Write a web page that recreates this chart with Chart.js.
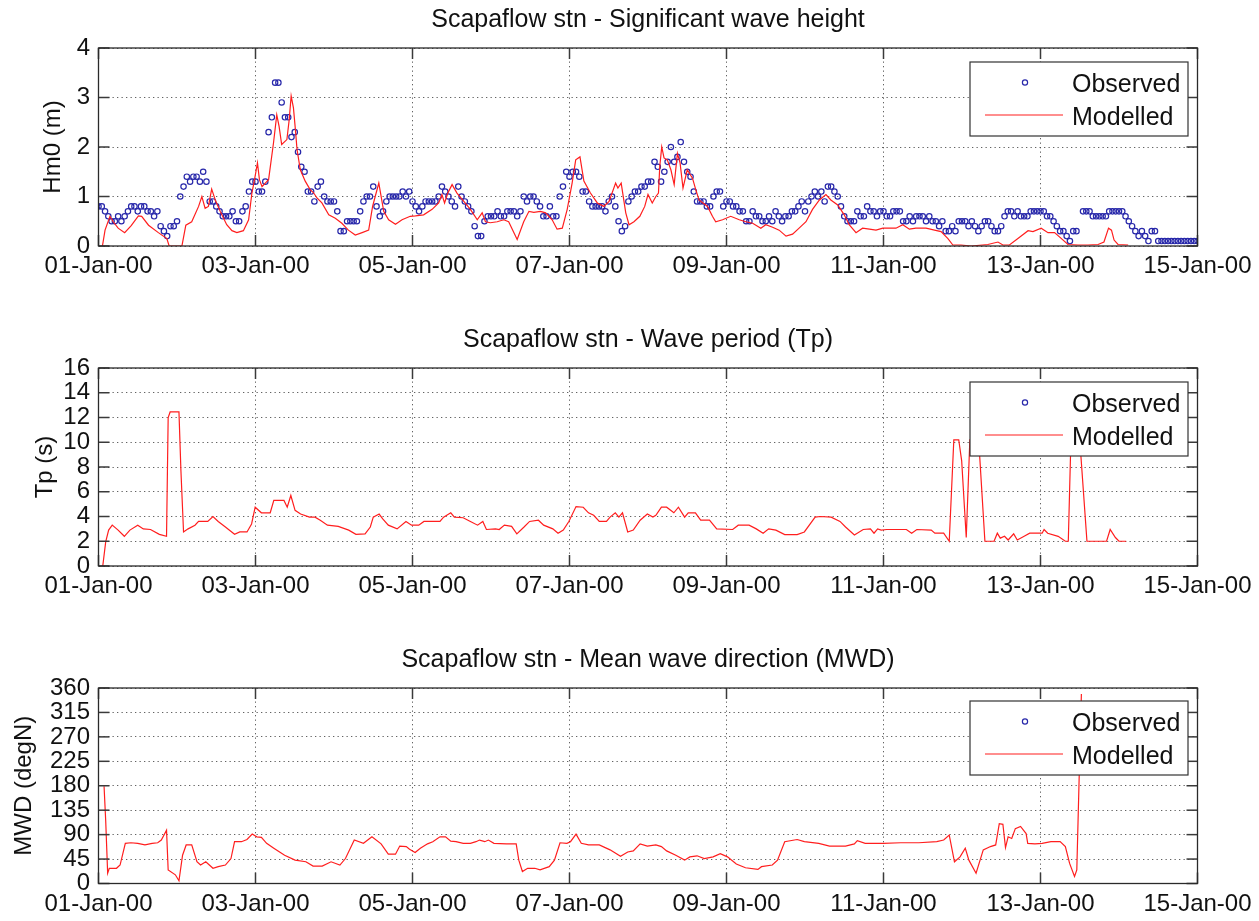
<!DOCTYPE html>
<html><head><meta charset="utf-8">
<script src="https://cdn.jsdelivr.net/npm/chart.js@4.4.1/dist/chart.umd.min.js"></script>
<style>
html,body{margin:0;padding:0;background:#fff;width:1259px;height:921px;overflow:hidden;position:relative}
canvas{position:absolute;left:0}
</style></head><body>
<canvas id="c1" width="1259" height="300" style="top:0px"></canvas>
<canvas id="c2" width="1259" height="300" style="top:320px"></canvas>
<canvas id="c3" width="1259" height="281" style="top:640px"></canvas>
<script>
// ---------- tick labels ----------
const dateLabels = ['01-Jan-00','03-Jan-00','05-Jan-00','07-Jan-00','09-Jan-00','11-Jan-00','13-Jan-00','15-Jan-00'];
const titles = ['Scapaflow stn - Significant wave height','Scapaflow stn - Wave period (Tp)','Scapaflow stn - Mean wave direction (MWD)'];
const yLabels = ['Hm0 (m)','Tp (s)','MWD (degN)'];
const seriesNames = ['Observed','Modelled'];

// ---------- observed Hm0, hourly from 01-Jan-00 00:00 (hour 0 .. 336) ----------
const obsHm0 = [
0.8,0.8,0.7,0.6,0.5,0.5,0.6,0.5,0.6,0.7, 0.8,0.8,0.7,0.8,0.8,0.7,0.7,0.6,0.7,0.4,
0.3,0.2,0.4,0.4,0.5,1.0,1.2,1.4,1.3,1.4, 1.4,1.3,1.5,1.3,0.9,0.9,0.8,0.7,0.6,0.6,
0.6,0.7,0.5,0.5,0.7,0.8,1.1,1.3,1.3,1.1, 1.1,1.3,2.3,2.6,3.3,3.3,2.9,2.6,2.6,2.2,
2.3,1.9,1.6,1.5,1.1,1.1,0.9,1.2,1.3,1.0, 0.9,0.9,0.9,0.7,0.3,0.3,0.5,0.5,0.5,0.5,
0.7,0.9,1.0,1.0,1.2,
0.8,0.6,0.7,0.9,1.0,1.0,1.0,1.0,1.1,1.0, 1.1,0.9,0.8,0.7,0.8,0.9,0.9,0.9,0.9,1.0,
1.2,1.1,1.0,0.9,0.8,1.2,1.0,0.9,0.8,0.7, 0.4,0.2,0.2,0.5,0.6,0.6,0.6,0.7,0.6,0.6,
0.7,0.7,0.7,0.6,0.7,1.0,0.9,1.0,1.0,0.9, 0.8,0.6,0.6,0.8,0.6,0.6,1.0,1.2,1.5,1.4,
1.5,1.5,1.4,1.1,1.1,0.9,0.8,0.8,0.8,0.8, 0.7,0.9,1.0,0.8,0.5,0.3,0.4,0.9,1.0,1.1,
1.1,1.2,1.2,1.3,
1.3,1.7,1.6,1.3,1.5,1.7,2.0,1.7,1.8,2.1, 1.7,1.5,1.4,1.1,0.9,0.9,0.9,0.8,0.8,1.0,
1.1,1.1,0.8,0.9,0.9,0.8,0.8,0.7,0.7,0.5, 0.5,0.7,0.6,0.6,0.5,0.5,0.6,0.5,0.7,0.6,
0.5,0.6,0.6,0.7,0.7,0.8,0.9,0.7,0.9,1.0, 1.1,1.0,1.1,0.9,1.2,1.2,1.1,1.0,0.8,0.6,
0.5,0.5,0.5,0.7,0.6,0.6,0.8,0.7,0.7,0.6, 0.7,0.7,0.6,0.6,0.7,0.7,0.7,0.5,0.5,0.6,
0.5,0.6,0.6,0.6,0.5,
0.6,0.5,0.5,0.4,0.5,0.3,0.3,0.4,0.3,0.5, 0.5,0.5,0.4,0.5,0.4,0.3,0.4,0.5,0.5,0.4,
0.3,0.3,0.4,0.6,0.7,0.7,0.6,0.7,0.6,0.6, 0.6,0.7,0.7,0.7,0.7,0.7,0.6,0.6,0.5,0.4,
0.3,0.3,0.2,0.1,0.3,0.3,null,0.7,0.7,0.7, 0.6,0.6,0.6,0.6,0.6,0.7,0.7,0.7,0.7,0.7,
0.6,0.5,0.4,0.3,0.2,0.3,0.2,0.1,0.3,0.3, 0.1,0.1,0.1,0.1,0.1,0.1,0.1,0.1,0.1,0.1,
0.1,0.1,0.1
];

// ---------- modelled Hm0 (hours since start, metres) ----------
const modHm0Hours = [1.2,2,3.5,4.5,6,8,10,12.2,13.2,15.3,18.3,20.9,21.6,25.5,26.7,28.5,30.6,31.6,32.6,33.6,34.6,35.7,37.2,39.2,40.8,42.3,44.3,45.9,46.9,47.7,48.6,49.2,50,51,52,53.5,54.5,55.2,56,57.6,58.3,58.9,59.6,60.2,60.7,61.7,63.2,64.7,65.7,66.8,68.3,70.4,72.4,74.4,76.4,78.5,80.6,82.6,83.8,84.6,
85.7,87.2,88.7,90.8,92.8,95.3,96.9,99.4,102,104,105,105.8,106.8,108.1,109.6,111.7,113.7,115.8,117.3,118.3,119.8,121.9,123.9,125.4,128,130,131.6,133.1,135.1,136.7,138.7,140.2,141.8,143.3,144.8,145.9,147.2,148.4,150.4,152.5,154.5,156.1,158.1,158.8,159.8,161.2,162.2,163.7,165.5,167,168,
169.3,170.4,171.2,171.6,172.2,172.9,173.9,175,176,177,177.8,178.7,180,181.6,182.6,183.6,186.2,187.7,188.7,190.8,193.3,195.9,197.9,200,202.5,204,206.1,208.1,210.2,212.2,214.2,216.3,218.3,220.4,222.4,223.9,226,228,229.5,231.6,233.6,235.7,237.7,239.8,241.8,243.8,245.9,247.9,249.9,253,
255.6,257.6,259.7,261.2,263.7,266.8,271.9,275,276.5,278.5,281.1,284.2,285.7,288.2,290.3,292.3,294.4,296.4,299.5,302.5,305.6,307.4,308.8,309.7,310.5,311.7,314.8];
const modHm0 = [0,0.32,0.6,0.49,0.36,0.27,0.41,0.61,0.6,0.42,0.27,0.15,0,0,0.42,0.49,0.8,1.0,0.76,0.8,1.15,0.93,0.7,0.43,0.31,0.27,0.31,0.53,1.07,1.34,1.68,1.34,1.2,1.27,1.34,2.08,2.65,2.42,2.05,2.15,2.55,3.03,2.79,2.35,1.95,1.54,1.31,1.14,1.08,0.97,0.87,0.63,0.56,0.46,0.32,0.22,0.27,0.32,0.8,1.0,
1.27,0.7,0.53,0.44,0.53,0.6,0.61,0.63,0.74,0.87,1.04,0.87,1.07,1.24,1.07,0.9,0.74,0.53,0.67,0.49,0.47,0.49,0.53,0.49,0.13,0.49,0.7,0.68,0.7,0.67,0.53,0.34,0.36,0.74,1.27,1.74,1.8,1.31,1.07,0.87,0.8,0.9,1.27,1.17,1.27,0.67,0.43,0.49,0.6,0.8,1.04,
0.87,1.0,1.07,1.61,2.0,1.78,1.74,1.54,1.24,1.87,1.68,1.17,1.54,1.37,1.14,0.93,0.8,0.6,0.49,0.53,0.6,0.53,0.49,0.46,0.36,0.43,0.38,0.32,0.2,0.24,0.36,0.49,0.74,0.93,1.04,0.93,0.83,0.63,0.43,0.27,0.36,0.34,0.32,0.36,0.36,0.36,0.43,0.34,0.36,0.36,
0.32,0.29,0.15,0.02,0.02,0,0.03,0.08,0.02,0.02,0.15,0.31,0.29,0.36,0.27,0.27,0.15,0.03,0.02,0.02,0.03,0.08,0.36,0.32,0.12,0.03,0.02];

// ---------- modelled Tp (hours, seconds) ----------
const modTpHours = [1.3,2.2,3.1,4.2,6.0,7.9,9.6,12.0,13.7,15.9,18.6,20.8,21.3,21.9,24.6,25.2,26.0,27.4,29.5,30.6,33.4,35.0,36.6,38.8,41.6,43.2,45.4,46.8,47.9,49.8,52.5,53.6,56.7,57.7,58.8,60.1,61.8,64.5,66.2,67.8,70.0,73.3,76.5,78.7,81.5,83.1,84.0,85.8,86.9,88.6,91.3,94.0,95.7,97.9,99.5,102.8,104.4,105.5,107.7,108.8,111.5,113.7,115.9,117.5,118.6,121.4,122.5,124.1,126.3,127.9,130.1,131.8,134.5,136.1,138.9,140.5,142.1,143.8,146.0,148.2,149.8,151.4,153.1,155.3,156.4,158.0,159.1,160.2,161.8,163.5,165.6,167.8,169.5,
170.4,172.1,173.7,175.9,177.3,179.2,180.3,182.5,184.1,186.8,189.0,193.9,195.6,198.9,201.1,203.2,204.9,207.1,209.8,213.6,215.8,219.1,220.7,224.0,226.7,228.4,231.1,233.8,236.0,237.1,238.2,239.3,241.0,247.0,248.6,250.2,254.6,255.7,258.4,260.1,261.5,263.0,263.9,264.8,265.3,266.4,268.8,269.4,271.0,273.8,274.8,275.7,277.0,278.1,279.8,280.9,283.0,284.7,288.5,289.1,290.2,293.4,295.6,296.5,297.3,300.0,302.2,308.2,309.3,310.9,312.0,314.2];
const modTp = [0,1.95,2.9,3.3,2.9,2.4,2.9,3.3,3.0,2.95,2.56,2.4,12.0,12.45,12.45,7.7,2.75,3.0,3.3,3.6,3.6,4.0,3.6,3.15,2.56,2.75,2.75,3.4,4.75,4.3,4.3,5.3,5.3,4.75,5.7,4.5,4.2,3.95,3.95,3.7,3.3,3.2,2.9,2.56,2.6,3.15,3.95,4.2,3.8,3.3,3.0,3.6,3.3,3.3,3.6,3.6,3.6,3.95,4.3,3.95,3.9,3.6,3.3,3.6,2.95,3.0,2.95,3.3,3.2,2.6,3.15,3.6,3.7,3.3,3.0,2.65,2.9,3.6,4.8,4.75,4.3,4.1,3.6,3.6,3.95,4.3,3.95,4.3,2.75,2.9,3.7,4.2,3.95,
4.1,4.75,4.75,4.3,4.75,3.95,4.3,4.3,3.7,3.7,3.0,2.95,3.3,3.3,3.0,2.65,3.0,2.9,2.54,2.54,2.75,3.95,4.0,3.95,3.6,3.15,2.5,2.95,3.0,2.65,3.0,2.9,2.95,2.95,2.65,2.95,2.9,2.65,2.65,2.0,10.2,10.2,8.5,4.5,2.3,10.2,10.2,8.9,2.0,2.0,2.65,2.25,2.4,2.1,2.6,2.1,2.4,2.65,2.65,2.95,2.65,2.4,2.0,2.0,10.2,10.2,2.0,2.0,2.95,2.3,2.0,2.0];

// ---------- modelled MWD (hours, degN) ----------
const modMwdHours = [1.7,2.2,2.8,3.3,5.5,6.6,8.2,9.9,12.0,14.2,16.4,18.1,19.2,20.8,21.3,23.5,24.6,25.7,26.8,28.5,30.1,31.2,32.8,35.0,36.6,38.8,40.5,41.6,43.7,45.4,47.0,48.4,49.8,51.4,53.6,56.9,60.1,63.4,65.6,68.4,71.1,73.8,75.5,78.2,81.0,83.6,86.4,88.6,90.8,92.1,94.1,95.1,96.8,98.4,100.6,102.2,104.4,106.1,107.7,109.3,111.5,113.7,115.4,116.5,118.1,119.2,120.9,124.7,127.7,128.5,129.6,131.2,133.4,135.0,137.8,139.4,141.1,143.2,144.3,146.0,147.6,149.8,153.1,156.4,159.6,161.8,163.5,165.6,167.8,
170.4,172.1,173.7,176.5,179.2,180.8,183.0,185.2,187.9,190.1,192.3,195.0,197.8,201.6,202.7,206.0,207.6,209.8,213.6,215.8,220.2,223.5,228.4,231.1,232.0,234.4,239.9,245.3,250.8,256.3,258.4,260.1,261.7,263.4,265.0,266.1,268.3,270.5,272.7,274.3,275.4,276.5,277.3,278.1,279.2,280.3,281.9,283.6,284.1,286.3,288.5,291.2,294.0,295.6,296.9,298.4,299.1,299.8,300.5];
const modMwd = [179,116,19,28,28,34,74,75,74,71,74,75,80,98,25,16,5,52,71,71,40,34,40,28,31,34,46,77,77,81,91,86,85,74,65,52,43,40,32,32,40,34,46,80,74,86,73,54,54,69,68,63,57,65,73,77,86,86,78,77,74,74,77,80,77,80,74,73,73,43,22,28,28,25,31,43,75,74,77,91,74,71,71,62,50,58,60,73,69,
71,68,60,52,43,49,51,46,49,55,49,36,29,26,31,34,43,77,81,77,74,69,69,73,79,74,74,75,75,77,80,89,40,49,65,43,19,62,68,71,110,109,66,86,83,101,105,92,74,73,74,77,77,68,37,13,25,190,349];

// ---------- styling ----------
const FONT = '"Liberation Sans", Arial, Helvetica, sans-serif';
const RED = 'rgb(255,30,30)';
const BLUE = 'rgb(40,40,170)';

const framePlugin = {
  id: 'frame',
  afterDatasetsDraw(chart, args, o) {
    const {ctx, chartArea: a} = chart;
    const xs = chart.scales.x, ys = chart.scales.y;
    ctx.save();
    ctx.strokeStyle = '#3a3a3a'; ctx.lineWidth = 1.5;
    const L = 11;
    const seg = (x1,y1,x2,y2)=>{ctx.beginPath();ctx.moveTo(x1,y1);ctx.lineTo(x2,y2);ctx.stroke();};
    ys.ticks.forEach(t=>{const p=ys.getPixelForValue(t.value); seg(a.left,p,a.left+L,p); seg(a.right-L,p,a.right,p);});
    xs.ticks.forEach(t=>{const p=xs.getPixelForValue(t.value); seg(p,a.bottom,p,a.bottom-L); seg(p,a.top,p,a.top+L);});
    ctx.strokeStyle = '#2a2a2a'; ctx.lineWidth = 1.3;
    ctx.strokeRect(a.left, a.top, a.right-a.left, a.bottom-a.top);
    // legend box
    const lt = o.top, ll = 970, lr = 1188, lb = o.top + 74;
    ctx.fillStyle = '#fff';
    ctx.fillRect(ll, lt, lr-ll, lb-lt);
    ctx.strokeStyle = '#333'; ctx.lineWidth = 1.2;
    ctx.strokeRect(ll, lt, lr-ll, lb-lt);
    ctx.strokeStyle = BLUE; ctx.lineWidth = 1.2;
    ctx.beginPath(); ctx.arc(1025, lt+20.5, 2.6, 0, Math.PI*2); ctx.stroke();
    ctx.strokeStyle = RED; ctx.lineWidth = 1.2;
    seg(985, lt+53, 1063, lt+53);
    ctx.fillStyle = '#111'; ctx.font = '25px ' + FONT; ctx.textAlign='left'; ctx.textBaseline='alphabetic';
    ctx.fillText(seriesNames[0], 1072, lt+29.5);
    ctx.fillText(seriesNames[1], 1072, lt+62.5);
    ctx.restore();
  }
};

function makeChart(id, cfg) {
  const canvas = document.getElementById(id);
  const datasets = [
    {label: seriesNames[1], data: cfg.modX.map((x,i)=>({x:x, y:cfg.modY[i]})), showLine: true,
     borderColor: RED, borderWidth: 1.2, pointRadius: 0, tension: 0, fill: false},
    {label: seriesNames[0], data: cfg.obs ? cfg.obs.map((v,i)=>({x:i, y:v})) : [], showLine: false,
     pointRadius: 2.7, pointBorderWidth: 1.2, pointBorderColor: BLUE, pointBackgroundColor: 'rgba(0,0,0,0)', borderColor: BLUE}
  ];
  return new Chart(canvas, {
    type: 'scatter',
    data: {datasets},
    options: {
      responsive: false, animation: false, devicePixelRatio: 1,
      layout: {padding: {left: 0, right: 61.5, top: 0, bottom: 0}},
      plugins: {
        legend: {display: false}, tooltip: {enabled: false},
        title: {display: true, text: cfg.title, fullSize: false, color: '#111',
                font: {family: FONT, size: 25, weight: 'normal', lineHeight: 1.2},
                padding: {top: 5, bottom: 13}},
        frame: {top: cfg.legendTop}
      },
      scales: {
        x: {type: 'linear', min: 0, max: 336,
            afterFit: s => { s.height = cfg.xh; },
            afterBuildTicks: s => { s.ticks = dateLabels.map((l,i)=>({value: i*48})); },
            grid: {color: 'rgba(70,70,70,0.85)', lineWidth: 1, drawTicks: false},
            border: {display: false, dash: [1.3, 3.2]},
            ticks: {autoSkip: false, maxRotation: 0, padding: 6, color: '#111',
                    font: {family: FONT, size: 24}, callback: (v, i) => dateLabels[i]}},
        y: {type: 'linear', min: 0, max: cfg.ymax,
            afterFit: s => { s.width = 98.5; },
            afterBuildTicks: s => { const t=[]; for (let v=0; v<=cfg.ymax+1e-9; v+=cfg.step) t.push({value:v}); s.ticks=t; },
            grid: {color: 'rgba(70,70,70,0.85)', lineWidth: 1, drawTicks: false},
            border: {display: false, dash: [1.3, 3.2]},
            ticks: {autoSkip: false, padding: 8.5, color: '#111', font: {family: FONT, size: 24}},
            title: {display: true, text: cfg.ylabel, color: '#111',
                    font: {family: FONT, size: 24, lineHeight: 1.2},
                    padding: {top: cfg.ytitlePad, bottom: 0}}}
      }
    },
    plugins: [framePlugin]
  });
}

makeChart('c1', {title: titles[0], ylabel: yLabels[0], ymax: 4, step: 1, xh: 54, legendTop: 62,
  ytitlePad: 39, obs: obsHm0, modX: modHm0Hours, modY: modHm0});
makeChart('c2', {title: titles[1], ylabel: yLabels[1], ymax: 16, step: 2, xh: 54, legendTop: 62,
  ytitlePad: 31, obs: null, modX: modTpHours, modY: modTp});
makeChart('c3', {title: titles[2], ylabel: yLabels[2], ymax: 360, step: 45, xh: 37.5, legendTop: 61,
  ytitlePad: 9.5, obs: null, modX: modMwdHours, modY: modMwd});
</script>
</body></html>
